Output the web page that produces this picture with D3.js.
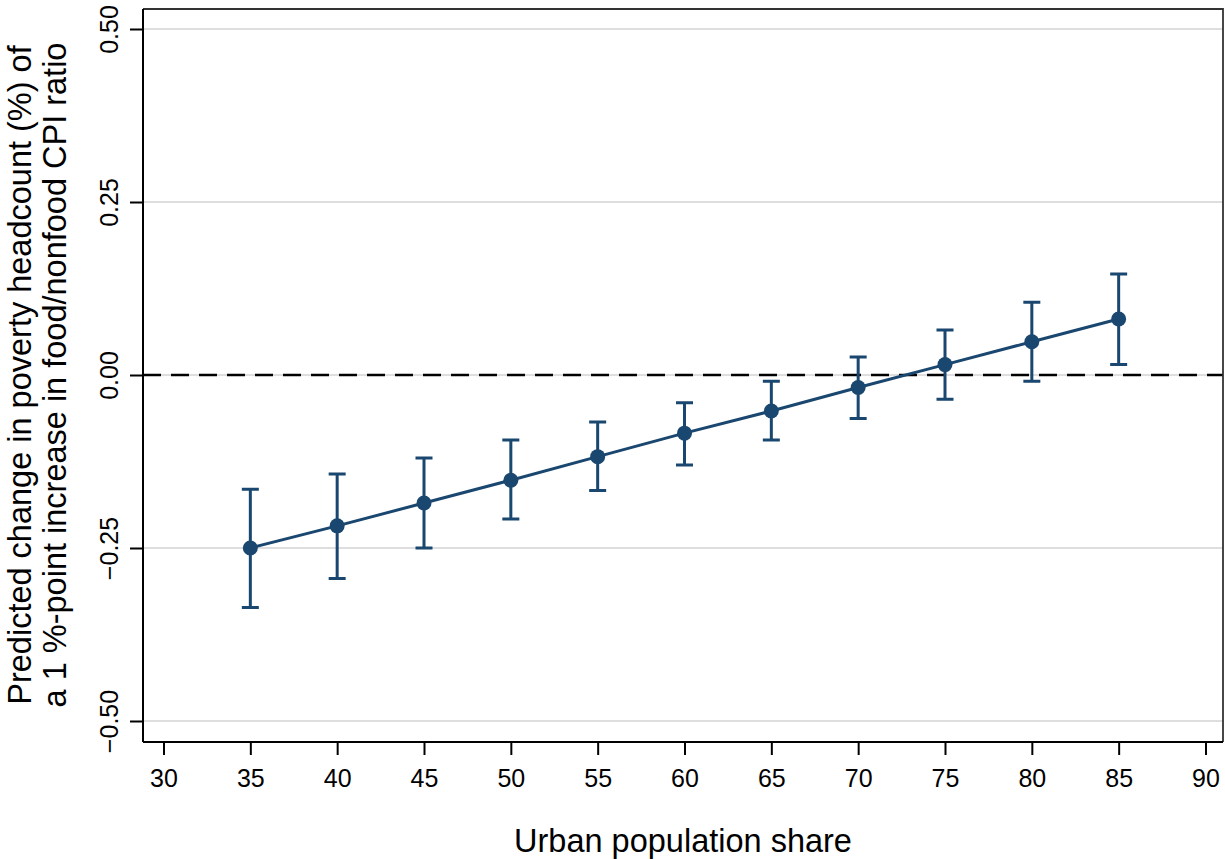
<!DOCTYPE html>
<html lang="en">
<head>
  <meta charset="UTF-8">
  <style>
    body {
      margin: 0;
      background: #fff;
      overflow: hidden;
    }

    svg {
      display: block;
      font-family: "Liberation Sans", Arial, sans-serif;
    }

    .grid line {
      stroke: #dedede;
      stroke-width: 2;
    }

    .axis path,
    .axis line {
      stroke: #000;
      stroke-width: 2;
    }

    .axis text {
      font-size: 25px;
      fill: #000;
    }

    .title {
      font-size: 32.5px;
      fill: #000;
    }
  </style>
  <script src="https://d3js.org/d3.v7.min.js"></script>
</head>
<body>

<svg id="chart"></svg>

<script>
  // urban population share (x) and predicted change with 95% CI
  const urbanShare = [35, 40, 45, 50, 55, 60, 65, 70, 75, 80, 85];
  const estimate = [-0.250, -0.218, -0.185, -0.152, -0.118, -0.084, -0.052, -0.018, 0.015, 0.048, 0.081];
  const ciUpper = [-0.165, -0.143, -0.120, -0.094, -0.068, -0.040, -0.009, 0.026, 0.065, 0.105, 0.146];
  const ciLower = [-0.336, -0.294, -0.250, -0.208, -0.167, -0.130, -0.094, -0.063, -0.035, -0.009, 0.015];

  const xTicks = [30, 35, 40, 45, 50, 55, 60, 65, 70, 75, 80, 85, 90];
  const yTicks = [-0.5, -0.25, 0, 0.25, 0.5];

  const yTitleLines = [
    "Predicted change in poverty headcount (%) of",
    "a 1 %-point increase in food/nonfood CPI ratio"
  ];
  const xTitle = "Urban population share";

  const width = 1225, height = 859;
  const frame = { left: 143, right: 1223, top: 9, bottom: 742 };
  const navy = "#1a476f";

  const svg = d3.select("#chart")
    .attr("width", width)
    .attr("height", height);

  const x = d3.scaleLinear().domain([30, 90]).range([163.5, 1205.5]);
  const y = d3.scaleLinear().domain([-0.5, 0.5]).range([721, 29]);

  // gridlines
  svg.append("g")
    .attr("class", "grid")
    .selectAll("line")
    .data(yTicks)
    .join("line")
    .attr("x1", frame.left)
    .attr("x2", frame.right)
    .attr("y1", d => y(d))
    .attr("y2", d => y(d));

  // zero reference line
  svg.append("line")
    .attr("x1", frame.left)
    .attr("x2", frame.right)
    .attr("y1", y(0))
    .attr("y2", y(0))
    .attr("stroke", "#000")
    .attr("stroke-width", 2.5)
    .attr("stroke-dasharray", "18,10");

  // top and right frame
  svg.append("path")
    .attr("d", `M${frame.left},${frame.top}H${frame.right}V${frame.bottom}`)
    .attr("fill", "none")
    .attr("stroke", "#333")
    .attr("stroke-width", 1.8);

  // x axis
  const xAxis = svg.append("g")
    .attr("class", "axis")
    .attr("transform", `translate(0,${frame.bottom})`)
    .call(d3.axisBottom(x).tickValues(xTicks).tickSize(13).tickPadding(14).tickSizeOuter(0));
  xAxis.select(".domain").attr("d", `M${frame.left},0H${frame.right}`);

  // y axis, labels turned upright
  const yAxis = svg.append("g")
    .attr("class", "axis")
    .attr("transform", `translate(${frame.left},0)`)
    .call(d3.axisLeft(y).tickValues(yTicks).tickSize(13).tickFormat(d3.format(".2f")).tickSizeOuter(0));
  yAxis.select(".domain").attr("d", `M0,${frame.top}V${frame.bottom}`);
  yAxis.selectAll(".tick text")
    .attr("x", 0)
    .attr("dy", 0)
    .attr("text-anchor", "middle")
    .attr("transform", "translate(-25,0) rotate(-90)");

  const points = urbanShare.map((u, i) => ({
    u, est: estimate[i], lo: ciLower[i], hi: ciUpper[i]
  }));

  // confidence intervals
  const bars = svg.append("g")
    .attr("stroke", navy)
    .attr("stroke-width", 3)
    .attr("fill", "none");

  bars.selectAll("path")
    .data(points)
    .join("path")
    .attr("d", d => {
      const cx = x(d.u), w = 8.5;
      return `M${cx},${y(d.hi)}V${y(d.lo)}` +
        `M${cx - w},${y(d.hi)}H${cx + w}` +
        `M${cx - w},${y(d.lo)}H${cx + w}`;
    });

  // connecting line
  svg.append("path")
    .datum(points)
    .attr("fill", "none")
    .attr("stroke", navy)
    .attr("stroke-width", 3)
    .attr("d", d3.line().x(d => x(d.u)).y(d => y(d.est)));

  // markers
  svg.append("g")
    .selectAll("circle")
    .data(points)
    .join("circle")
    .attr("cx", d => x(d.u))
    .attr("cy", d => y(d.est))
    .attr("r", 7.5)
    .attr("fill", navy);

  // axis titles
  svg.append("text")
    .attr("class", "title")
    .attr("x", (frame.left + frame.right) / 2)
    .attr("y", 852)
    .attr("text-anchor", "middle")
    .text(xTitle);

  const yTitle = svg.append("text")
    .attr("class", "title")
    .attr("text-anchor", "middle")
    .attr("transform", `translate(0,${y(0)}) rotate(-90)`);

  yTitleLines.forEach((line, i) => {
    yTitle.append("tspan")
      .attr("x", 0)
      .attr("y", 31 + i * 35)
      .text(line);
  });
</script>

</body>
</html>
